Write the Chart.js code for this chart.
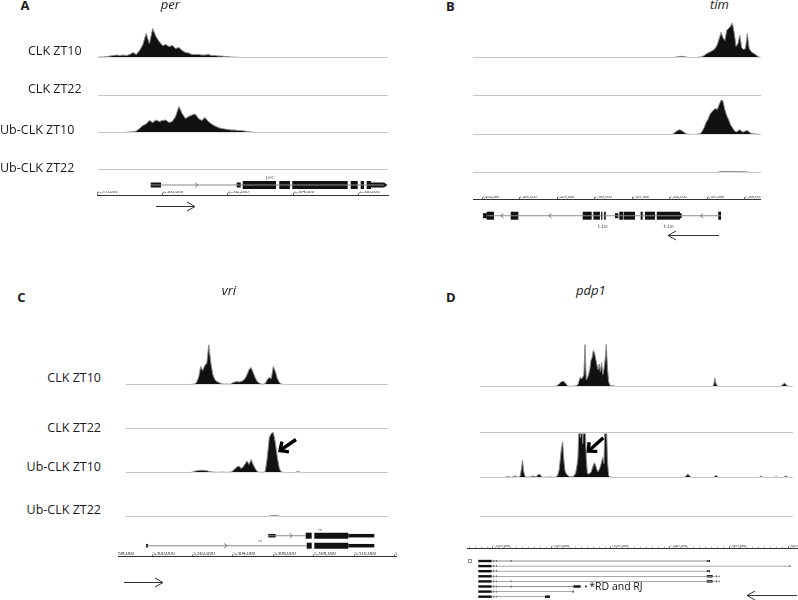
<!DOCTYPE html>
<html><head><meta charset="utf-8">
<script src="https://cdn.jsdelivr.net/npm/chart.js@4.4.1/dist/chart.umd.min.js"></script>
<style>
html,body{margin:0;padding:0;background:#fff;}
#fig{position:relative;width:798px;height:600px;overflow:hidden;background:#fff;}
#fig canvas{position:absolute;}
.t{position:absolute;white-space:nowrap;font-family:"Open Sans","Noto Sans",sans-serif;line-height:1;color:#1a1a1a;}
</style></head><body><div id="fig"></div>
<script>
// ===================== DATA =====================
const trackNames = ['CLK ZT10', 'CLK ZT22', 'Ub-CLK ZT10', 'Ub-CLK ZT22'];
const panelLetters = ['A', 'B', 'C', 'D'];
const geneNames = ['per', 'tim', 'vri', 'pdp1'];

// genomic axis tick values (labelled)
const perTicks = [2578000, 2580000, 2582000, 2584000, 2586000];
const timTicks = [2494000, 2496000, 2498000, 2500000, 2502000, 2504000, 2506000, 2508000];
const vriTicks = [5298000, 5300000, 5302000, 5304000, 5306000, 5308000, 5310000, 5312000];
const pdpTicks = [7010000, 7020000, 7030000, 7040000, 7050000, 7060000];
// unlabelled minor tick spacing (bp); 0 = none
const minorSteps = [0, 0, 0, 1000];

// ---- per (A): coverage in 100 bp bins ----
const perBin = 100;
const perClkZT10Start = 2578000;
const perClkZT10 = [0,0.5,0.5,1,1.5,2,2.5,2,2.5,2,3,5,3,7,13,24,14,29,21,16,12,13,11,12,9,10,7,5,4.5,3,3,3,2.5,2.5,3,2,2,1.5,1.5,1,0.8,0.5,0.3,0.2,0];
const perUbZT10Start = 2578900;
const perUbZT10 = [0.2,0.5,0.8,1.5,4,7,8.5,12,10,12.5,11,12,12.5,10,11,16,26,19,14,16,17.5,18.5,14,12,15,11,8.5,6.5,5,4,3.5,3,2.5,2.5,2,2,1.5,1,0.5,0.2,0];

// ---- tim (B): 100 bp bins ----
const timBin = 100;
const timClkZT10Start = 2504250;
const timClkZT10 = [0,0.4,0.8,1,1.2,1,0.6,0.3,0,0,0,0,0,0.3,0.5,1,2,3.5,4.5,5.5,6.5,7.5,9.5,13,19,25,20,17,27,29,31,34.5,25,11,14,22,10,8,9,24,9,6,4.5,3.5,2,0.8,0];
const timUbZT10Start = 2504250;
const timUbZT10 = [1.5,3,4.2,4.7,4,2.5,1.2,0.4,0.2,0,0,0,0.2,0.5,1,3.5,7,12,15,20,22.5,24.5,26,25,30,34.5,33.5,25,19,15,10,7,4,2.5,3.5,5,3,2.5,3.5,4,2.5,1.2,0.9,0.6,0.4,0.2,0];
const timUbZT22Start = 2506600;
const timUbZT22 = [0.3,0.8,1,1,1,1,1,1,0.8,0.8,0.8,0.8,0.8,0.8,0.8,0.5,0.3];

// ---- vri (C): 100 bp bins ----
const vriBin = 100;
const vriClkZT10Start = 5302000;
const vriClkZT10 = [0.3,0.5,2.3,7.5,18,14,19,21,39.7,22,10,5,3,2,1,0.5,0.3,0.5,0.3,0.5,2,2.5,3,2.5,3,4,6,10,15,17,12,7,3,1.5,0.5,0.3,1,5,7,6,18,13,6,2,0.5,0];
const vriUbZT10Start = 5302000;
const vriUbZT10 = [0.5,1.2,1.8,2,2.2,2.2,2,1.8,1.2,0.8,0.5,0.3,0.2,0.2,0.3,0.5,0.3,0.2,0.3,0.5,1.7,4,5.5,6.5,4,5.5,8.5,11.5,8,13,8,4,1,0.3,0.2,0.3,1,15,35,39,40,30,15,4,0.5,0.2,0,0,0,0,0,0,1,0.5,0];
const vriUbZT22Start = 5305800;
const vriUbZT22 = [0.3,0.8,1,1,0.8,0.3];

// ---- pdp1 (D): 200 bp bins ----
const pdpBin = 200;
const pdpClkZT10Start = 7020400;
const pdpClkZT10 = [0,0.3,0.8,1.5,2.5,3.8,4.8,5.3,5,4,2.5,1,0.3,0.2,0.2,0.2,0.3,0.5,0.8,1,2,6,9.3,7.5,9,12,42,7,8.5,12,17,26,29,36,34,28,22,17,22.5,15,24,12,17,27,42,19,5,1.5,0.5,0.8,0.8,0.3];
const pdpClkZT10bStart = 7047200;
const pdpClkZT10b = [0.3,1.5,8.3,3,0.8,0.2];
const pdpClkZT10cStart = 7058800;
const pdpClkZT10c = [0.3,1,2.5,3.3,2.5,1,0.3];
const pdpUbZT10Start = 7012000;
const pdpUbZT10 = [0.2,0.3,0.8,1,0.5,0.3,0.3,0.5,1.2,1.5,0.5,0.3,0.5,1.5,8,17.3,6,1.5,0.5,0.3,0.3,0.5,0.8,1.2,1.5,1,0.8,1.2,2.5,3.3,3,1,0.3,0.2,0.2,0.3,0.5,0.5,0.5,0.5,0.3,0.2,0.3,0.5,1,3,7.3,18,30,35.7,18,7,4,2.5,1.5,1,0.8,0.5,1,2.5,4,10.7,20,60,40,60,34,60,60,20,4,3.5,4.5,5,8.5,12,14.7,12,8,5.7,8,11,15.5,20,14,60,60,17,2,0.5,0.3,0.3];
const pdpUbZT10bStart = 7042400;
const pdpUbZT10b = [0.3,1,2,3.3,2.5,1,0.3];
const pdpUbZT10cStart = 7047400;
const pdpUbZT10c = [0.3,1,2.5,1,0.3];
const pdpUbZT10dStart = 7055200;
const pdpUbZT10d = [0.3,1.7,0.5];
const pdpUbZT10eStart = 7057800;
const pdpUbZT10e = [0.3,0.8,0.3];
const pdpUbZT10fStart = 7059400;
const pdpUbZT10f = [0.5,1.7,0.8,0.2];

// ---- gene models: [row, start, end] ----
const perIntrons = [[1,2579640,2586760]];
const perUTR = [[1,2579640,2579954],[1,2582266,2582388],[1,2586367,2586760]];
const perCDS = [[1,2582450,2583466],[1,2583566,2583893],[1,2583963,2585655],[1,2585747,2585960],[1,2586052,2586153],[1,2586235,2586367]];
const perChevrons = [[1,2581044,1]];
const perTips = [[1,2586760,1]];

const timIntrons = [[1,2494050,2506750]];
const timUTR = [[1,2494050,2494250],[1,2501090,2501270],[1,2504560,2504650]];
const timCDS = [[1,2494250,2494640],[1,2495530,2495940],[1,2499370,2499850],[1,2499940,2500290],[1,2500350,2500420],[1,2500510,2500600],[1,2501320,2501540],[1,2501570,2502160],[1,2502460,2502570],[1,2502690,2503230],[1,2503320,2504560],[1,2506600,2506750]];
const timChevrons = [[1,2495070,-1],[1,2497630,-1],[1,2505710,-1]];
const timTips = [[1,2494250,-1]];

const vriIntrons = [[1,5305751,5307605],[2,5299722,5307655]];
const vriUTR = [[1,5305751,5306118],[1,5309717,5311006],[2,5309717,5311006],[2,5299690,5299790]];
const vriCDS = [[1,5307605,5307903],[1,5308032,5309717],[2,5307655,5307903],[2,5308032,5309717]];
const vriChevrons = [[1,5306877,1],[2,5303639,1]];

const pdpIntrons = [[1,7009780,7046660],[2,7009780,7060340],[3,7009780,7046660],[4,7009780,7048475],[5,7009780,7048475],[6,7009780,7023610],[7,7009780,7023610],[8,7009780,7018810]];
const pdpThick = [[1,7007508,7009780],[2,7007508,7009780],[3,7007508,7009780],[4,7007508,7009780],[5,7007508,7009780],[6,7007508,7009780],[7,7007508,7009780],[8,7007508,7009780],[4,7046220,7047240],[5,7046220,7047240],[6,7023610,7024860],[8,7018810,7019660]];
const pdpSmall = [[1,7010050,7010220],[1,7010510,7010630],[2,7010050,7010220],[2,7010510,7010630],[3,7010050,7010220],[3,7010510,7010630],[4,7010050,7010220],[4,7010510,7010630],[5,7010050,7010220],[5,7010510,7010630],[6,7010050,7010220],[6,7010510,7010630],[7,7010050,7010220],[7,7010510,7010630],[8,7010050,7010220],[8,7010510,7010630],[1,7013000,7013150],[5,7013000,7013150],[6,7013000,7013150],[1,7046220,7046780],[2,7060250,7060400],[3,7046220,7046780],[4,7047800,7047970],[4,7048400,7048475],[5,7047800,7047970],[5,7048400,7048475],[6,7025590,7025880],[7,7023450,7023700]];

// ===================== PLUGINS =====================
const bigArrowPlugin = {
  id: 'bigArrow',
  afterDatasetsDraw(chart, args, o) {
    if (!o || !o.tip) return;
    const xs = chart.scales.x, ys = chart.scales.y, ctx = chart.ctx;
    const tx = xs.getPixelForValue(o.tip[0]), ty = ys.getPixelForValue(o.tip[1]);
    const sx = xs.getPixelForValue(o.tail[0]), sy = ys.getPixelForValue(o.tail[1]);
    const a = Math.atan2(sy - ty, sx - tx), L = 9, w = 0.75;
    ctx.save();
    ctx.strokeStyle = '#000'; ctx.lineWidth = 3.4; ctx.lineCap = 'butt'; ctx.lineJoin = 'miter';
    ctx.beginPath(); ctx.moveTo(sx, sy); ctx.lineTo(tx + Math.cos(a) * 1.5, ty + Math.sin(a) * 1.5); ctx.stroke();
    ctx.beginPath();
    ctx.moveTo(tx + Math.cos(a - w) * L, ty + Math.sin(a - w) * L);
    ctx.lineTo(tx, ty);
    ctx.lineTo(tx + Math.cos(a + w) * L, ty + Math.sin(a + w) * L);
    ctx.stroke();
    ctx.restore();
  }
};

const dirArrowPlugin = {
  id: 'dirArrow',
  afterDraw(chart, args, o) {
    if (!o || o.from === undefined) return;
    const xs = chart.scales.x, ctx = chart.ctx;
    const x0 = xs.getPixelForValue(o.from), x1 = xs.getPixelForValue(o.to);
    const y = Math.round(chart.chartArea.top + o.dy) + 0.5;
    const d = Math.sign(x1 - x0);
    ctx.save(); ctx.strokeStyle = '#333'; ctx.lineWidth = 1;
    ctx.beginPath(); ctx.moveTo(x0, y); ctx.lineTo(x1, y);
    ctx.moveTo(x1 - d * 8, y - 4.5); ctx.lineTo(x1, y); ctx.lineTo(x1 - d * 8, y + 4.5);
    ctx.stroke(); ctx.restore();
  }
};

const geneDecorPlugin = {
  id: 'geneDecor',
  afterDatasetsDraw(chart, args, o) {
    if (!o) return;
    const xs = chart.scales.x, ys = chart.scales.y, ctx = chart.ctx;
    ctx.save();
    (o.chevrons || []).forEach(([r, pos, d]) => {
      const x = xs.getPixelForValue(pos), y = ys.getPixelForValue(r);
      ctx.strokeStyle = '#666'; ctx.lineWidth = 0.9;
      ctx.beginPath(); ctx.moveTo(x - d * 1.5, y - 2.2); ctx.lineTo(x + d * 1.2, y); ctx.lineTo(x - d * 1.5, y + 2.2); ctx.stroke();
    });
    (o.tips || []).forEach(([r, pos, d]) => {
      const x = xs.getPixelForValue(pos), y = ys.getPixelForValue(r);
      ctx.fillStyle = '#111';
      ctx.beginPath(); ctx.moveTo(x, y - 2.8); ctx.lineTo(x + d * 3.5, y); ctx.lineTo(x, y + 2.8); ctx.closePath(); ctx.fill();
    });
    (o.labels || []).forEach(lb => {
      const x = xs.getPixelForValue(lb.pos), y = ys.getPixelForValue(lb.row) + lb.dy;
      ctx.font = lb.font; ctx.fillStyle = lb.color; ctx.textAlign = lb.align || 'center'; ctx.textBaseline = 'middle';
      ctx.fillText(lb.text, x, y);
    });
    if (o.box) {
      const x = xs.getPixelForValue(o.box.pos), y = ys.getPixelForValue(o.box.row);
      ctx.strokeStyle = '#777'; ctx.lineWidth = 0.8;
      ctx.strokeRect(Math.round(x) + 0.5, Math.round(y) - 1.5, 3, 3);
    }
    ctx.restore();
  }
};

// ===================== LAYOUT =====================
const fig = document.getElementById('fig');
Chart.defaults.font.family = 'Open Sans';

const panels = [
  { // A per
    anchorG: 2578000, anchorX: 97, pxPerKb: 32.75, ticks: perTicks,
    trackX: [98, 388], baselines: [57, 95, 132, 169], heights: [36, 36, 36, 36],
    tracks: [
      [[perClkZT10Start, perBin, perClkZT10]], [],
      [[perUbZT10Start, perBin, perUbZT10]], []
    ],
    labels: [[28, 56.3, false], [28, 94.5, false], [0, 134.8, false], [0, 173, false]],
    letter: [20.5, 10.8], title: [160.7, 9.3],
    axis: { x: [97, 389], lineY: 195, font: 5.2, arrow: [156, 195, 11] },
    genes: { x: [97, 389], top: 172, height: 20, rowTop: 13, rowGap: 10,
      sets: [[perIntrons, '#8a8a8a', 1], [perUTR, '#111', 5], [perCDS, '#111', 8]],
      chevrons: perChevrons, tips: perTips,
      labels: [{ row: 1, pos: 2583282, text: 'per', dy: -7.5, font: '7px "Liberation Serif"', color: '#8a8a8a' }] }
  },
  { // B tim
    anchorG: 2494000, anchorX: 482, pxPerKb: 18.75, ticks: timTicks,
    trackX: [473, 761], baselines: [57, 95, 134, 172], heights: [37, 37, 37, 37],
    tracks: [
      [[timClkZT10Start, timBin, timClkZT10]], [],
      [[timUbZT10Start, timBin, timUbZT10]], [[timUbZT22Start, timBin, timUbZT22]]
    ],
    labels: null,
    letter: [446, 11.7], title: [710, 9.8],
    axis: { x: [473, 761], lineY: 199, font: 4.3, arrow: [719, 668, 36] },
    genes: { x: [473, 761], top: 202, height: 30, rowTop: 13.7, rowGap: 10,
      sets: [[timIntrons, '#8a8a8a', 1], [timUTR, '#111', 5], [timCDS, '#111', 8]],
      chevrons: timChevrons, tips: timTips,
      labels: [{ row: 1, pos: 2500416, text: 'tim', dy: 11, font: '6px "Liberation Mono"', color: '#777' },
               { row: 1, pos: 2503936, text: 'tim', dy: 11, font: '6px "Liberation Mono"', color: '#777' }] }
  },
  { // C vri
    anchorG: 5300000, anchorX: 152.3, pxPerKb: 20.17, ticks: vriTicks,
    trackX: [126, 388], baselines: [384, 428, 472, 516], heights: [42, 42, 42, 42],
    tracks: [
      [[vriClkZT10Start, vriBin, vriClkZT10]], [],
      [[vriUbZT10Start, vriBin, vriUbZT10]], [[vriUbZT22Start, vriBin, vriUbZT22]]
    ],
    bigArrow: { track: 2, tip: [5306331, 22], tail: [5307124, 33] },
    labels: [[101, 383, true], [101, 433, true], [101, 472, true], [101, 514.7, true]],
    letter: [17.3, 302.7], title: [221.7, 295.5],
    axis: { x: [112, 400], clip: [118, 397], lineY: 556, font: 5.6, arrow: [124, 163, 25] },
    genes: { x: [112, 400], top: 528, height: 24, rowTop: 7.7, rowGap: 10,
      sets: [[vriIntrons, '#8a8a8a', 1], [vriUTR, '#111', 3.5], [vriCDS, '#111', 6]],
      chevrons: vriChevrons, tips: [],
      labels: [{ row: 1, pos: 5308314, text: 'vri', dy: -5.5, font: '4px "Liberation Serif"', color: '#666' },
               { row: 2, pos: 5305340, text: 'vri', dy: -5, font: '4px "Liberation Serif"', color: '#666' }] }
  },
  { // D pdp1
    anchorG: 7010000, anchorX: 493, pxPerKb: 5.9, ticks: pdpTicks,
    trackX: [480, 793], baselines: [386, 432, 477, 516], heights: [44, 44, 44, 44],
    tracks: [
      [[pdpClkZT10Start, pdpBin, pdpClkZT10], [pdpClkZT10bStart, pdpBin, pdpClkZT10b], [pdpClkZT10cStart, pdpBin, pdpClkZT10c]], [],
      [[pdpUbZT10Start, pdpBin, pdpUbZT10], [pdpUbZT10bStart, pdpBin, pdpUbZT10b], [pdpUbZT10cStart, pdpBin, pdpUbZT10c],
       [pdpUbZT10dStart, pdpBin, pdpUbZT10d], [pdpUbZT10eStart, pdpBin, pdpUbZT10e], [pdpUbZT10fStart, pdpBin, pdpUbZT10f]], []
    ],
    bigArrow: { track: 2, tip: [7026153, 26.3], tail: [7028695, 39.7] },
    labels: null,
    letter: [446, 302.7], title: [576, 295.5],
    axis: { x: [467, 798], lineY: 548, font: 4.3, arrow: [797, 747, 47] },
    genes: { x: [467, 798], top: 552, height: 48, rowTop: 9, rowGap: 5.1,
      sets: [[pdpIntrons, '#8a8a8a', 0.8], [pdpThick, '#111', 2.4], [pdpSmall, '#111', 1.8]],
      chevrons: [], tips: [], box: { row: 1, pos: 7005700 },
      labels: [{ row: 6, pos: 7026322, text: '*RD and RJ', dy: 0.5, font: '10.5px "Open Sans"', color: '#111', align: 'left' }] }
  }
];

function x2g(p, px) { return p.anchorG + (px - p.anchorX) / p.pxPerKb * 1000; }

function mkCanvas(left, top, w, h, parent) {
  const c = document.createElement('canvas');
  c.width = w; c.height = h;
  c.style.left = left + 'px'; c.style.top = top + 'px';
  (parent || fig).appendChild(c);
  return c;
}

function txt(s, x, base, size, o) {
  o = o || {};
  const d = document.createElement('div');
  d.className = 't'; d.textContent = s;
  d.style.fontSize = size + 'px';
  d.style.top = (base - 0.888 * size) + 'px';
  d.style.left = x + 'px';
  if (o.right) d.style.transform = 'translateX(-100%)';
  if (o.bold) d.style.fontWeight = 'bold';
  if (o.italic) d.style.fontStyle = 'italic';
  fig.appendChild(d);
}

function segPoints(min, max, segs) {
  const pts = [{ x: min, y: 0 }, { x: max, y: 0 }];
  segs.forEach(([start, bin, vals]) => {
    pts.push({ x: start - bin, y: 0 });
    vals.forEach((v, i) => pts.push({ x: start + i * bin, y: v }));
    pts.push({ x: start + vals.length * bin, y: 0 });
  });
  return pts.sort((a, b) => a.x - b.x);
}

const fmt = v => Number(v).toLocaleString('en-US');

panels.forEach((p, pi) => {
  // ---- coverage tracks ----
  const min = x2g(p, p.trackX[0]), max = x2g(p, p.trackX[1]);
  const w = p.trackX[1] - p.trackX[0];
  p.tracks.forEach((segs, ti) => {
    const H = p.heights[ti];
    const c = mkCanvas(p.trackX[0], p.baselines[ti] - H, w, H + 2);
    const ba = (p.bigArrow && p.bigArrow.track === ti) ? { tip: p.bigArrow.tip, tail: p.bigArrow.tail } : false;
    new Chart(c, {
      type: 'line',
      data: { datasets: [{ label: trackNames[ti], data: segPoints(min, max, segs), borderColor: '#8c8c8c', borderWidth: 1,
        backgroundColor: '#111', fill: 'origin', pointRadius: 0, tension: 0 }] },
      options: {
        responsive: false, animation: false, events: [],
        layout: { padding: { top: 0.5, bottom: 1.5, left: 0, right: 0 } },
        scales: { x: { type: 'linear', display: false, min, max }, y: { type: 'linear', display: false, min: 0, max: H } },
        plugins: { legend: { display: false }, tooltip: { enabled: false }, bigArrow: ba }
      },
      plugins: [bigArrowPlugin]
    });
  });

  // ---- genomic axis ----
  const ax = p.axis;
  const amin = x2g(p, ax.x[0]), amax = x2g(p, ax.x[1]);
  let parent = fig, offX = 0;
  if (ax.clip) {
    parent = document.createElement('div');
    parent.style.cssText = `position:absolute;left:${ax.clip[0]}px;top:0;width:${ax.clip[1] - ax.clip[0]}px;height:600px;overflow:hidden;`;
    fig.appendChild(parent);
    offX = ax.clip[0];
  }
  const tickVals = p.ticks, minor = minorSteps[pi];
  const ac = mkCanvas(ax.x[0] - offX, 0, ax.x[1] - ax.x[0], 12 + ax.arrow[2] + 8, parent);
  const achart = new Chart(ac, {
    type: 'line', data: { datasets: [] },
    options: {
      responsive: false, animation: false, events: [],
      layout: { padding: { top: 4, left: 0, right: 0, bottom: 0 } },
      scales: {
        x: { type: 'linear', position: 'top', min: amin, max: amax, offset: false,
          afterBuildTicks: s => {
            const t = tickVals.filter(v => v >= s.min - 200 && v <= s.max).map(v => ({ value: v, major: true }));
            if (minor) {
              for (let v = Math.ceil(s.min / minor) * minor; v <= s.max; v += minor) {
                if (!tickVals.includes(v)) t.push({ value: v, major: false });
              }
            }
            s.ticks = t.sort((a, b) => a.value - b.value);
          },
          afterFit: s => { s.paddingLeft = 0; s.paddingRight = 0; },
          ticks: { align: 'start', maxRotation: 0, minRotation: 0, autoSkip: false, padding: -1.5,
            color: '#333', font: { family: 'Liberation Serif', size: ax.font, lineHeight: 1 },
            callback: (v, i, ts) => (ts[i] && ts[i].major) ? fmt(v) : '' },
          grid: { drawOnChartArea: false, tickLength: 2, lineWidth: 0.8,
            color: c => (c.tick && c.tick.major) ? '#444' : '#aaa' },
          border: { color: '#333', width: 1 } },
        y: { display: false, min: 0, max: 1 }
      },
      plugins: { legend: { display: false }, tooltip: { enabled: false },
        dirArrow: { from: x2g(p, ax.arrow[0]), to: x2g(p, ax.arrow[1]), dy: ax.arrow[2] } }
    },
    plugins: [dirArrowPlugin]
  });
  ac.style.top = (ax.lineY - Math.floor(achart.chartArea.top)) + 'px';

  // ---- gene models ----
  const g = p.genes;
  const gmin = x2g(p, g.x[0]), gmax = x2g(p, g.x[1]);
  const gc = mkCanvas(g.x[0], g.top, g.x[1] - g.x[0], g.height);
  const yMin = 1 - g.rowTop / g.rowGap, yMax = yMin + g.height / g.rowGap;
  new Chart(gc, {
    type: 'bar',
    data: { datasets: g.sets.map(([items, color, h]) => ({
      data: items.map(([r, a, b]) => ({ x: [a, b], y: r })),
      backgroundColor: color, maxBarThickness: h, barPercentage: 1, categoryPercentage: 1,
      grouped: false, borderWidth: 0, inflateAmount: 0 })) },
    options: {
      indexAxis: 'y', responsive: false, animation: false, events: [],
      layout: { padding: 0 },
      scales: { x: { type: 'linear', display: false, min: gmin, max: gmax, offset: false },
                y: { type: 'linear', display: false, reverse: true, min: yMin, max: yMax, offset: false, bounds: 'data', grace: 0 } },
      plugins: { legend: { display: false }, tooltip: { enabled: false },
        geneDecor: { chevrons: g.chevrons, tips: g.tips, labels: g.labels, box: g.box || null } }
    },
    plugins: [geneDecorPlugin]
  });

  // ---- text ----
  txt(panelLetters[pi], p.letter[0], p.letter[1], 13, { bold: true });
  txt(geneNames[pi], p.title[0], p.title[1], 13, { italic: true });
  if (p.labels) p.labels.forEach(([x, base, right], ti) => txt(trackNames[ti], x, base, 12.5, { right }));
});
</script></body></html>
